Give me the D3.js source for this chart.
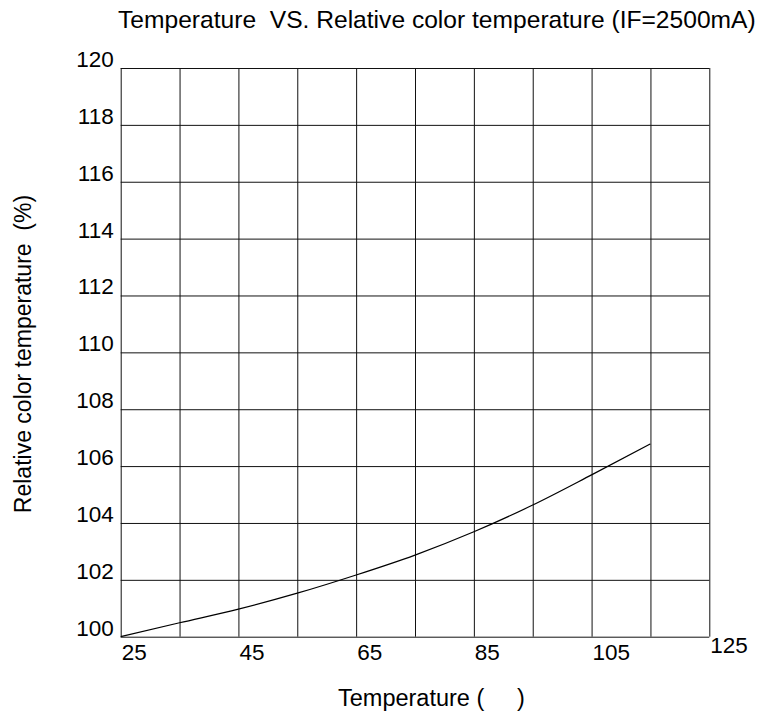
<!DOCTYPE html>
<html>
<head>
<meta charset="utf-8">
<script src="https://cdn.jsdelivr.net/npm/d3@7"></script>
<style>
  html, body { margin: 0; padding: 0; background: #fff; }
  svg text { font-family: "Liberation Sans", Arial, sans-serif; fill: #000; }
</style>
</head>
<body>
<div id="chart"></div>
<script>
const temps = [25, 35, 45, 55, 65, 75, 85, 95, 105, 115];
const relColorTemp = [100, 100.49, 100.97, 101.53, 102.17, 102.87, 103.69, 104.63, 105.69, 106.78];
const xTickLabels = [25, 45, 65, 85, 105, 125];
const yTickLabels = [100, 102, 104, 106, 108, 110, 112, 114, 116, 118, 120];

const width = 763;
const height = 725;
const margin = { top: 68, right: 53.7, bottom: 88.3, left: 120.7 };

const svg = d3.select("#chart").append("svg")
    .attr("width", width)
    .attr("height", height);

const x = d3.scaleLinear()
    .domain([25, 125])
    .range([margin.left, width - margin.right]);

const y = d3.scaleLinear()
    .domain([100, 120])
    .range([height - margin.bottom, margin.top]);

// vertical grid, every 10 degrees
svg.append("g")
    .attr("transform", `translate(0,${height - margin.bottom})`)
    .call(d3.axisBottom(x)
        .tickValues(d3.range(25, 126, 10))
        .tickSize(-(height - margin.top - margin.bottom))
        .tickFormat(""))
    .call(g => g.select(".domain").remove())
    .selectAll("line")
    .attr("stroke", "#111");

// horizontal grid
svg.append("g")
    .attr("transform", `translate(${margin.left},0)`)
    .call(d3.axisLeft(y)
        .tickValues(yTickLabels)
        .tickSize(-(width - margin.left - margin.right))
        .tickFormat(""))
    .call(g => g.select(".domain").remove())
    .selectAll("line")
    .attr("stroke", "#111");

// y tick labels
svg.append("g")
    .selectAll("text")
    .data(yTickLabels)
    .enter()
    .append("text")
    .attr("x", margin.left - 7)
    .attr("y", d => y(d) - 1)
    .attr("text-anchor", "end")
    .style("font-size", "22.5px")
    .text(d => d);

// x tick labels (start at gridline)
svg.append("g")
    .selectAll("text")
    .data(xTickLabels)
    .enter()
    .append("text")
    .attr("x", d => x(d) + 1)
    .attr("y", (d, i) => i === xTickLabels.length - 1 ? height - margin.bottom + 16.5 : height - margin.bottom + 23)
    .attr("text-anchor", "start")
    .style("font-size", "22.5px")
    .text(d => d);

const line = d3.line()
    .x((d, i) => x(temps[i]))
    .y(d => y(d))
    .curve(d3.curveMonotoneX);

svg.append("path")
    .datum(relColorTemp)
    .attr("fill", "none")
    .attr("stroke", "#000")
    .attr("stroke-width", 1.2)
    .attr("d", line);

svg.append("text")
    .attr("x", 118)
    .attr("y", 28)
    .style("font-size", "24.6px")
    .style("white-space", "pre")
    .text("Temperature  VS. Relative color temperature (IF=2500mA)");

svg.append("text")
    .attr("x", 338)
    .attr("y", 706)
    .style("font-size", "23.5px")
    .style("white-space", "pre")
    .text("Temperature (     )");

svg.append("text")
    .attr("transform", "translate(31,354) rotate(-90)")
    .attr("text-anchor", "middle")
    .style("font-size", "23px")
    .style("white-space", "pre")
    .text("Relative color temperature  (%)");
</script>
</body>
</html>
